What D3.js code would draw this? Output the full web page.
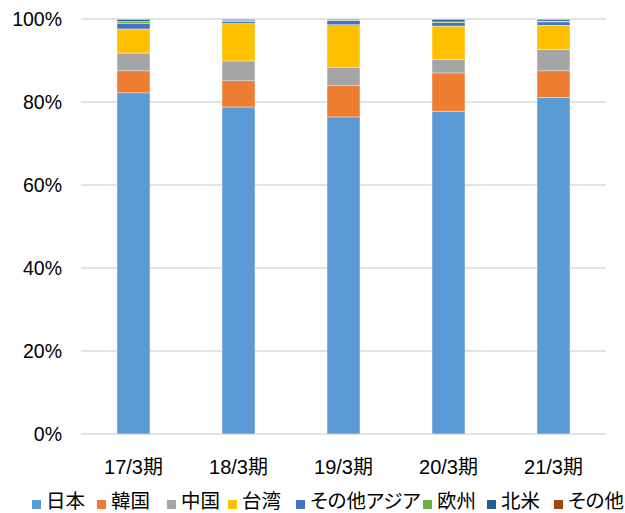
<!DOCTYPE html>
<html><head><meta charset="utf-8">
<script src="https://cdn.jsdelivr.net/npm/d3@7"></script>
<style>body{margin:0;background:#fff}svg{display:block}</style>
</head><body><svg id="c" width="625" height="513"></svg>
<script>
const categories = ["17/3期","18/3期","19/3期","20/3期","21/3期"];
const seriesNames = ["日本","韓国","中国","台湾","その他アジア","欧州","北米","その他"];
const japan   = [82.2, 78.8, 76.4, 77.8, 81.1];
const korea   = [5.3, 6.3, 7.5, 9.2, 6.4];
const china   = [4.3, 4.8, 4.5, 3.2, 5.1];
const taiwan  = [5.8, 9.0, 10.2, 8.1, 5.9];
const otherAsia = [1.4, 0.5, 1.0, 0.8, 0.8];
const europe  = [0.4, 0.2, 0.1, 0.2, 0.2];
const northAm = [0.5, 0.3, 0.2, 0.5, 0.3];
const others  = [0.1, 0.1, 0.1, 0.2, 0.2];
const yTicks = [0, 20, 40, 60, 80, 100];
const colors = ["#5B9BD5","#ED7D31","#A5A5A5","#FFC000","#4472C4","#70AD47","#255E91","#9E480E"];

const seriesVals = [japan, korea, china, taiwan, otherAsia, europe, northAm, others];
const rows = categories.map((c,i)=>{const o={cat:c}; seriesNames.forEach((s,j)=>o[s]=seriesVals[j][i]); return o;});
const stack = d3.stack().keys(seriesNames).offset(d3.stackOffsetExpand)(rows);

const svg = d3.select("#c");
const m = {l:81, r:19, t:19, b:79};
const W = 625, H = 513;
const x = d3.scaleBand().domain(categories).range([m.l, W-m.r]).paddingInner(0.686).paddingOuter(0.343);
const y = d3.scaleLinear().domain([0,1]).range([H-m.b, m.t]);

svg.append("g").selectAll("line").data(yTicks).join("line")
  .attr("x1", m.l).attr("x2", W-m.r)
  .attr("y1", d=>y(d/100)).attr("y2", d=>y(d/100))
  .attr("stroke", "#D9D9D9").attr("stroke-width", 1.3);

svg.append("g").selectAll("text").data(yTicks).join("text")
  .attr("x", 62).attr("y", d=>y(d/100)).attr("dy","0.36em")
  .attr("text-anchor","end")
  .attr("font-family","Liberation Sans, Arial, sans-serif").attr("font-size",19.5).attr("fill","#000")
  .text(d=>d+"%");

svg.append("g").selectAll("g").data(stack).join("g")
  .attr("fill", (d,i)=>colors[i])
  .selectAll("rect").data(d=>d).join("rect")
  .attr("x", d=>x(d.data.cat)).attr("width", x.bandwidth())
  .attr("y", d=>y(d[1])).attr("height", d=>Math.max(0, y(d[0])-y(d[1])))
  .attr("stroke","#fff").attr("stroke-width",0.4);

svg.append("g").selectAll("text").data(categories).join("text")
  .attr("x", d=>x(d)+x.bandwidth()/2).attr("y", 474)
  .attr("text-anchor","middle")
  .attr("font-family","Liberation Sans, 'Noto Sans CJK JP', sans-serif").attr("font-size",20).attr("fill","#000")
  .text(d=>d);

// legend (layout positions)
const legendX = [32, 97, 167, 228, 296, 423, 487, 554];
const leg = svg.append("g");
seriesNames.forEach((s,i)=>{
  leg.append("rect").attr("x",legendX[i]).attr("y",500).attr("width",9).attr("height",9).attr("fill",colors[i]);
  leg.append("text").attr("x",legendX[i]+14).attr("y",508)
    .attr("font-family","'Noto Sans CJK JP', sans-serif").attr("font-size",19.5)
    .style("font-feature-settings","'palt'").attr("fill","#000").text(s);
});
</script></body></html>
